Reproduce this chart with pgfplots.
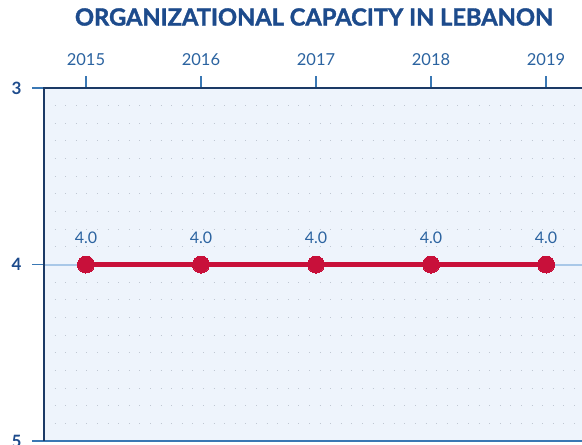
\documentclass[border=0pt]{standalone}
\usepackage{graphicx}
\usepackage{pgfplots}
\pgfplotsset{compat=1.18}
\usepackage{fontspec}
\setmainfont{Lato}
\newfontfamily\titlefont{Lato}[FakeBold=1.6]
\definecolor{titleblue}{HTML}{1D4B8C}
\definecolor{tickblue}{HTML}{2B63A0}
\definecolor{lineblue}{HTML}{3A78B4}
\definecolor{navy}{HTML}{1B3A66}
\definecolor{bgblue}{HTML}{EEF4FC}
\definecolor{gridblue}{HTML}{A9C8E8}
\definecolor{dotgray}{HTML}{BFC7D2}
\definecolor{crimson}{HTML}{C8103A}
\begin{document}
\begin{tikzpicture}
\path[use as bounding box, clip] (0,0) rectangle (582pt,445pt);
\node[text=titleblue, font=\fontsize{20}{20}\titlefont\bfseries] at (314pt,428pt)
  {\resizebox{478pt}{!}{ORGANIZATIONAL CAPACITY IN LEBANON}};
\begin{axis}[
  at={(44pt,4pt)}, anchor=south west, scale only axis,
  width=544pt, height=353pt,
  xmin=2014.635, xmax=2019.365,
  ymin=3, ymax=5, y dir=reverse,
  clip=false,
  xtick={2015,2016,2017,2018,2019},
  xticklabel pos=right, xtick pos=right,
  ytick={3,4,5}, ytick pos=left,
  minor y tick num=9,
  tick align=outside,
  major tick length=12pt, minor tick length=0pt,
  every tick/.style={lineblue, line width=1.5pt},
  axis line style={draw=none},
  axis background/.style={fill=bgblue},
  ymajorgrids, yminorgrids,
  major grid style={gridblue, line width=2pt},
  minor grid style={dotgray, line width=1pt, dash pattern=on 1pt off 9.6pt},
  /pgf/number format/assume math mode=true,
  /pgf/number format/1000 sep={},
  x tick label style={font=\fontsize{16.5}{16.5}\selectfont, text=tickblue, yshift=7pt},
  y tick label style={font=\fontsize{17}{17}\selectfont\bfseries, text=titleblue, xshift=-7pt},
  nodes near coords={\pgfmathprintnumber[fixed,fixed zerofill,precision=1]{\pgfplotspointmeta}},
  point meta=y,
  every node near coord/.append style={font=\fontsize{16}{16}\selectfont, text=tickblue, anchor=base, inner sep=0pt, yshift=21pt},
]
\addplot[crimson, line width=4.5pt, mark=*, mark size=8.5pt, mark options={fill=crimson, draw=crimson, line width=0pt}]
  coordinates {(2015,4.0) (2016,4.0) (2017,4.0) (2018,4.0) (2019,4.0)};
\draw[lineblue, line width=1.5pt] (rel axis cs:0,0) -- (rel axis cs:1,0);
\draw[navy, line width=2pt] (rel axis cs:0,0) -- (rel axis cs:0,1) -- (rel axis cs:1,1);
\end{axis}
\end{tikzpicture}
\end{document}
